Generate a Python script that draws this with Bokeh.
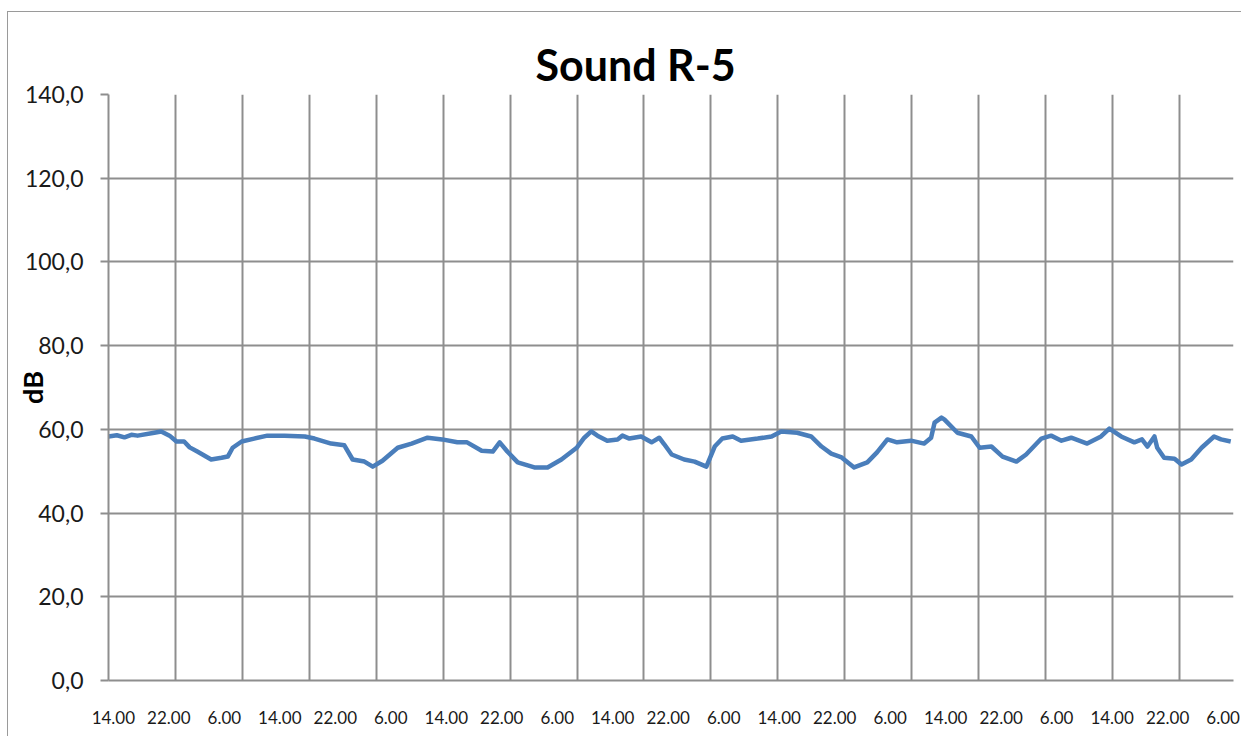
from bokeh.plotting import figure
from bokeh.models import FixedTicker, Range1d
from bokeh.embed import file_html
from bokeh.resources import INLINE

# Hours since start of measurement and sound level (dB)
hours = [0, 1.2, 2.3, 3.3, 4.2, 6.6, 7.6, 8.8, 9.8, 10.9, 11.7, 12.8, 14.8, 16.3, 17.2, 17.9,
         19.2, 21.0, 22.9, 25.4, 28.3, 29.7, 32.1, 34.0, 35.2, 36.9, 38.1, 39.5, 41.7, 43.7,
         46.0, 48.1, 50.3, 51.7, 53.8, 55.4, 56.4, 57.5, 59.0, 61.4, 63.3, 65.3, 67.5, 68.6,
         69.6, 70.5, 71.9, 73.4, 74.1, 75.1, 76.8, 78.3, 79.4, 80.1, 81.2, 83.0, 84.5, 86.2,
         87.4, 88.5, 90.0, 91.2, 93.6, 95.6, 97.0, 99.3, 101.3, 102.8, 104.2, 105.7, 107.5,
         109.4, 110.8, 112.3, 113.7, 115.7, 117.6, 118.6, 119.1, 120.1, 120.5, 122.4, 124.4,
         125.6, 127.3, 128.9, 130.9, 132.3, 134.5, 135.9, 137.4, 138.8, 141.1, 143.1, 144.3,
         146.0, 147.9, 149.0, 149.8, 150.8, 151.2, 152.2, 153.7, 154.7, 156.1, 157.6, 159.4,
         160.4, 161.8]
db = [58.3, 58.6, 58.1, 58.7, 58.5, 59.2, 59.5, 58.5, 57.1, 57.1, 55.7, 54.7, 52.8, 53.2, 53.5, 55.6,
      57.1, 57.8, 58.5, 58.5, 58.3, 57.8, 56.6, 56.2, 52.8, 52.3, 51.1, 52.5, 55.6, 56.6,
      58.0, 57.6, 56.9, 56.9, 54.9, 54.7, 56.9, 54.7, 52.1, 50.9, 50.9, 52.8, 55.6, 58.0,
      59.5, 58.5, 57.3, 57.6, 58.5, 57.8, 58.3, 56.9, 58.0, 56.5, 54.0, 52.8, 52.3, 51.1,
      55.9, 57.8, 58.3, 57.3, 57.8, 58.3, 59.5, 59.2, 58.3, 55.9, 54.2, 53.3, 50.9,
      52.1, 54.5, 57.6, 56.9, 57.3, 56.6, 58.0, 61.6, 62.8, 62.4, 59.2, 58.3,
      55.6, 55.9, 53.5, 52.3, 54.0, 57.8, 58.5, 57.3, 58.0, 56.6, 58.3, 60.2,
      58.3, 56.9, 57.6, 55.9, 58.3, 55.6, 53.2, 53.0, 51.6, 52.8, 55.6, 58.3,
      57.6, 57.1]

x_labels = ["14.00", "22.00", "6.00"] * 7
y_ticks = [0, 20, 40, 60, 80, 100, 120, 140]

first_label = 0.7
label_step = 8
grid_step = 9.65
label_pos = [first_label + label_step * i for i in range(len(x_labels))]
grid_pos = [grid_step * k for k in range(17)]

GRID = "#8e8e8e"
FONT = "Lato"

p = figure(width=1234, height=725, output_backend="svg", toolbar_location=None,
           x_range=Range1d(0, 162.2), y_range=Range1d(0, 140),
           min_border_left=100, min_border_right=9, min_border_top=82, min_border_bottom=57,
           title="Sound R-5")
p.styles = {"margin-top": "11px", "margin-left": "7px",
            "border-left": "1px solid #9a9a9a", "border-top": "1px solid #9a9a9a"}
p.outline_line_color = None
p.background_fill_color = "white"
p.border_fill_color = "white"

p.title.align = "left"
p.title.offset = 427
p.title.text_font = FONT
p.title.text_font_size = "43px"
p.title.text_font_style = "bold"
p.title.text_color = "#000000"
p.title.standoff = 10

# grids
p.xgrid.ticker = FixedTicker(ticks=grid_pos)
p.ygrid.ticker = FixedTicker(ticks=y_ticks)
for g in (p.xgrid, p.ygrid):
    g.grid_line_color = GRID
    g.grid_line_width = 2

# y axis
ya = p.yaxis[0]
ya.ticker = FixedTicker(ticks=y_ticks)
ya.major_label_overrides = {v: f"{v:.1f}".replace(".", ",") for v in y_ticks}
ya.axis_line_color = GRID
ya.axis_line_width = 2
ya.major_tick_line_color = GRID
ya.major_tick_line_width = 2
ya.major_tick_out = 8
ya.major_tick_in = 0
ya.minor_tick_line_color = None
ya.major_label_standoff = 17
ya.major_label_text_font = FONT
ya.major_label_text_font_size = "23px"
ya.major_label_text_color = "#1a1a1a"
ya.axis_label = "dB"
ya.axis_label_text_font = FONT
ya.axis_label_text_font_size = "27px"
ya.axis_label_text_font_style = "bold"
ya.axis_label_text_color = "#000000"
ya.axis_label_standoff = -27

# x axis
xa = p.xaxis[0]
xa.ticker = FixedTicker(ticks=label_pos)
xa.major_label_overrides = {pos: lab for pos, lab in zip(label_pos, x_labels)}
xa.axis_line_color = GRID
xa.axis_line_width = 2
xa.major_tick_out = 0
xa.major_tick_in = 0
xa.major_tick_line_color = None
xa.minor_tick_line_color = None
xa.major_label_standoff = 30
xa.major_label_text_font = FONT
xa.major_label_text_font_size = "17px"
xa.major_label_text_color = "#1a1a1a"

p.line(hours, db, line_width=4.5, line_color="#4a7ebb", line_join="round")

open("out.html", "w").write(file_html(p, INLINE))
